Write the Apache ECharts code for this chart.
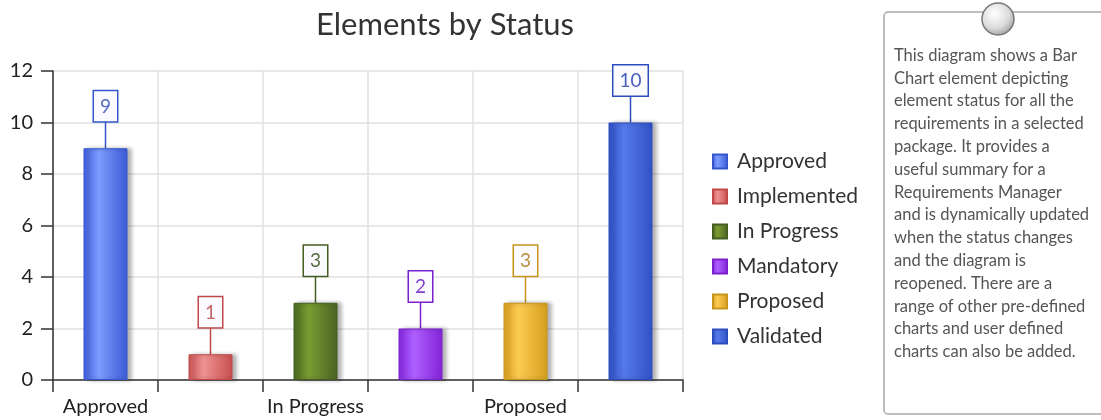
<!DOCTYPE html>
<html>
<head>
<meta charset="utf-8">
<script src="https://cdn.jsdelivr.net/npm/echarts@6/dist/echarts.min.js"></script>
<style>
  html, body { margin: 0; padding: 0; background: #fff; }
  #chart { width: 1101px; height: 420px; }
</style>
</head>
<body>
<div id="chart"></div>
<script>
// data
var statuses = ['Approved', 'Implemented', 'In Progress', 'Mandatory', 'Proposed', 'Validated'];
var counts = [9, 1, 3, 2, 3, 10];
var yTicks = { min: 0, max: 12, interval: 2 };
var noteText = [
  'This diagram shows a Bar',
  'Chart element depicting',
  'element status for all the',
  'requirements in a selected',
  'package. It provides a',
  'useful summary for a',
  'Requirements Manager',
  'and is dynamically updated',
  'when the status changes',
  'and the diagram is',
  'reopened. There are a',
  'range of other pre-defined',
  'charts and user defined',
  'charts can also be added.'
];

// colours per status: [edge, highlight, edge, border, label text]
var palette = [
  ['#3d60de', '#7d9dff', '#3a5ad6', '#3556cc', '#5a6cc0'],
  ['#cf5656', '#ee9292', '#c84e4e', '#c04848', '#c06868'],
  ['#4c6a22', '#7a9c32', '#4a6224', '#455d20', '#5b6b40'],
  ['#8526e0', '#ae60ff', '#8224d8', '#7a20cc', '#8040c8'],
  ['#dda020', '#fbcb52', '#d69e1e', '#c8951c', '#b89040'],
  ['#3050c8', '#5479ea', '#3052c6', '#2c4cbc', '#4a60b8']
];
var leader = 27;

var font = 'Lato, "Open Sans", sans-serif';

var chart = echarts.init(document.getElementById('chart'));

var barSeries = statuses.map(function (name, i) {
  var c = palette[i];
  return {
    name: name,
    type: 'bar',
    barWidth: 44,
    barGap: '-100%',
    z: 3,
    itemStyle: {
      color: new echarts.graphic.LinearGradient(0, 0, 1, 0, [
        { offset: 0, color: c[0] },
        { offset: 0.35, color: c[1] },
        { offset: 1, color: c[2] }
      ]),
      borderColor: c[3],
      borderWidth: 1,
      shadowColor: 'rgba(0,0,0,0.3)',
      shadowBlur: 4,
      shadowOffsetX: 4,
      shadowOffsetY: 0
    },
    label: {
      show: true,
      position: 'top',
      distance: leader,
      formatter: '{c}',
      fontFamily: font,
      fontSize: 19,
      color: c[4],
      backgroundColor: '#fbfbff',
      borderColor: c[3],
      borderWidth: 1.5,
      padding: [6, 6, 5, 6]
    },
    data: counts.map(function (v, j) { return j === i ? v : null; })
  };
});

var leaderSeries = {
  type: 'custom',
  z: 2,
  silent: true,
  data: counts.map(function (v, i) { return [i, v]; }),
  renderItem: function (params, api) {
    var p = api.coord([api.value(0), api.value(1)]);
    return {
      type: 'line',
      shape: { x1: p[0], y1: p[1], x2: p[0], y2: p[1] - leader },
      style: { stroke: palette[params.dataIndex][3], lineWidth: 1.5 }
    };
  }
};

chart.setOption({
  animation: false,
  title: {
    text: 'Elements by Status',
    left: 440,
    textAlign: 'center',
    top: 4,
    textStyle: { fontFamily: font, fontSize: 31, fontWeight: 'normal', color: '#333' }
  },
  legend: {
    orient: 'vertical',
    left: 707,
    top: 146,
    icon: 'rect',
    itemWidth: 14,
    itemHeight: 14,
    itemGap: 14,
    textStyle: { fontFamily: font, fontSize: 21, color: '#333', padding: [0, 0, 0, 5] },
    data: statuses
  },
  grid: { left: 53, right: 418, top: 71, bottom: 40 },
  xAxis: {
    type: 'category',
    data: statuses,
    axisLine: { lineStyle: { color: '#333', width: 1.5 } },
    axisTick: { show: true, interval: 0, length: 12, lineStyle: { color: '#333', width: 1.5 } },
    axisLabel: { interval: 1, fontFamily: font, fontSize: 20, color: '#222', margin: 17 },
    splitLine: { show: true, interval: 0, lineStyle: { color: '#e0e0e0', width: 1.5 } }
  },
  yAxis: {
    type: 'value',
    min: yTicks.min,
    max: yTicks.max,
    interval: yTicks.interval,
    axisLine: { show: true, lineStyle: { color: '#333', width: 1.5 } },
    axisTick: { show: true, length: 12, lineStyle: { color: '#333', width: 1.5 } },
    axisLabel: { fontFamily: font, fontSize: 20, color: '#222', margin: 20 },
    splitLine: { lineStyle: { color: '#e0e0e0', width: 1.5 } }
  },
  graphic: [
    {
      type: 'rect',
      shape: { x: 884, y: 12, width: 240, height: 402, r: 4 },
      style: { fill: '#fff', stroke: '#a8a8a8', lineWidth: 1.5 }
    },
    {
      type: 'circle',
      shape: { cx: 998, cy: 19, r: 16 },
      style: {
        fill: new echarts.graphic.RadialGradient(0.4, 0.35, 0.7, [
          { offset: 0, color: '#ffffff' },
          { offset: 0.6, color: '#dcdcdc' },
          { offset: 1, color: '#9a9a9a' }
        ]),
        stroke: '#777',
        lineWidth: 1.5
      }
    },
    {
      type: 'text',
      left: 894,
      top: 44,
      style: {
        text: noteText.join('\n'),
        fontFamily: font,
        fontSize: 16.5,
        lineHeight: 22.8,
        fill: '#555'
      }
    }
  ],
  series: barSeries.concat([leaderSeries])
});
</script>
</body>
</html>
